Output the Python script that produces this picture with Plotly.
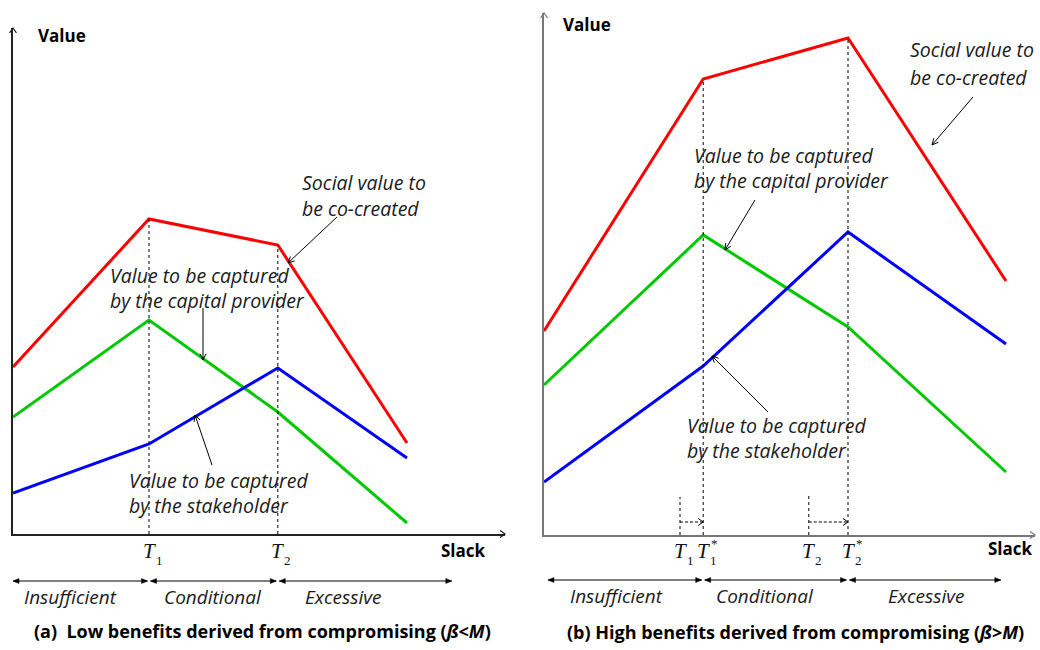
import math
import plotly.graph_objects as go

W, H = 1040, 650

# ---------------- data ----------------
T1, T2 = 3.4, 6.62          # original thresholds
T1s, T2s = 3.98, 7.6        # shifted thresholds (panel b)

slack_a = [0, T1, T2, 9.85]
social_a = [3.34, 6.3, 5.78, 1.82]
capital_a = [2.34, 4.28, 2.44, 0.22]
stake_a = [0.82, 1.8, 3.32, 1.52]

slack_b = [0, T1s, T2s, 11.55]
social_b = [4.08, 9.12, 9.94, 5.08]
capital_b = [3.0, 6.0, 4.16, 1.26]
stake_b = [1.06, 3.38, 6.06, 3.82]

regions = ["Insufficient", "Conditional", "Excessive"]
region_edges_a = [0, T1, T2, 10.97]
region_edges_b = [0.1, T1s, T2s, 11.42]
shift_marker_h = [0.76, 0.84]   # heights of short dotted markers at T1, T2 (panel b)
shift_arrow_y = 0.26

RED, GREEN, BLUE = "#FF0000", "#00C800", "#0000FF"
SANS = "Open Sans"
SERIF = "Liberation Serif"

# ---------------- geometry ----------------
SX, SY = 40.0, 50.0  # px per data unit
PANELS = {
    "a": dict(ox=13, oy=534, xend=505, ytop=28, axc="#222222", xa="x", ya="y"),
    "b": dict(ox=544, oy=535, xend=1035, ytop=13, axc="#777777", xa="x2", ya="y2"),
}

def dpx(p, x, y):
    g = PANELS[p]
    return g["ox"] + x * SX, g["oy"] - y * SY

def pp(px, py):
    return px / W, 1 - py / H

def pstr(pts, close=False):
    s = ""
    for i, (x, y) in enumerate(pts):
        a, b = pp(x, y)
        s += ("M" if i == 0 else "L") + f"{a:.5f},{b:.5f} "
    if close:
        s += "Z"
    return s

shapes = []
annotations = []

def open_arrow(x1, y1, x2, y2, color="#000", width=1, L=7, ang=26, dash=None, headonly=False):
    dx, dy = x2 - x1, y2 - y1
    n = math.hypot(dx, dy)
    ux, uy = dx / n, dy / n
    a = math.radians(ang)
    c, s = math.cos(a), math.sin(a)
    lx, ly = x2 - L * (ux * c - uy * s), y2 - L * (uy * c + ux * s)
    rx, ry = x2 - L * (ux * c + uy * s), y2 - L * (uy * c - ux * s)
    if not headonly:
        ln = dict(color=color, width=width)
        if dash:
            ln["dash"] = dash
        shapes.append(dict(type="path", xref="paper", yref="paper", path=pstr([(x1, y1), (x2, y2)]), line=ln))
    shapes.append(dict(type="path", xref="paper", yref="paper",
                       path=pstr([(lx, ly), (x2, y2), (rx, ry)]), line=dict(color=color, width=width)))

def filled_head(xt, yt, direction, L=6, hw=2.5, color="#000"):
    d = direction
    pts = [(xt, yt), (xt - d * L, yt - hw), (xt - d * L, yt + hw)]
    shapes.append(dict(type="path", xref="paper", yref="paper", path=pstr(pts, close=True),
                       fillcolor=color, line=dict(color=color, width=0.5)))

def text(px, py, t, size=18, bold=False, italic=False, xanchor="center", family=SANS, color="#1a1a1a"):
    if italic:
        t = f"<i>{t}</i>"
    if bold:
        t = f"<b>{t}</b>"
    x, y = pp(px, py)
    annotations.append(dict(x=x, y=y, xref="paper", yref="paper", text=t, showarrow=False,
                            xanchor=xanchor, yanchor="middle", align="left",
                            font=dict(family=family, size=size, color=color)))

fig = go.Figure()

def add_panel(p, slack, social, capital, stake):
    g = PANELS[p]
    for vals, col in ((social, RED), (capital, GREEN), (stake, BLUE)):
        fig.add_trace(go.Scatter(x=slack, y=vals, mode="lines", xaxis=g["xa"], yaxis=g["ya"],
                                 line=dict(color=col, width=3), cliponaxis=False,
                                 hoverinfo="skip", showlegend=False))
    # dotted guides at the kinks of the social-value line
    for i in (1, 2):
        fig.add_trace(go.Scatter(x=[slack[i], slack[i]], y=[0, social[i]], mode="lines",
                                 xaxis=g["xa"], yaxis=g["ya"], line=dict(color="#000", width=1, dash="dot"),
                                 hoverinfo="skip", showlegend=False))
    # axis arrowheads
    open_arrow(g["ox"], g["oy"], g["ox"], g["ytop"], color=g["axc"], width=1.2, L=6, ang=35, headonly=True)
    open_arrow(g["ox"], g["oy"], g["xend"], g["oy"], color=g["axc"], width=1.2, L=6, ang=35, headonly=True)

add_panel("a", slack_a, social_a, capital_a, stake_a)
add_panel("b", slack_b, social_b, capital_b, stake_b)

# shift markers in panel b
for t0, t1, h in ((T1, T1s, shift_marker_h[0]), (T2, T2s, shift_marker_h[1])):
    fig.add_trace(go.Scatter(x=[t0, t0], y=[0, h], mode="lines", xaxis="x2", yaxis="y2",
                             line=dict(color="#000", width=1, dash="dot"), hoverinfo="skip", showlegend=False))
    fig.add_trace(go.Scatter(x=[t0, t1], y=[shift_arrow_y, shift_arrow_y], mode="lines", xaxis="x2", yaxis="y2",
                             line=dict(color="#000", width=1, dash="3px,2px"), hoverinfo="skip", showlegend=False))
    x1, y1 = dpx("b", t0, shift_arrow_y)
    x2, y2 = dpx("b", t1, shift_arrow_y)
    open_arrow(x1, y1, x2, y2, headonly=True, L=6, ang=35)

# axis titles
text(36, 35, "Value", size=17, bold=True, xanchor="left", color="#000")
text(561, 25, "Value", size=17, bold=True, xanchor="left", color="#000")
text(488, 550, "Slack", size=17, bold=True, xanchor="right", color="#000")
text(1035, 548, "Slack", size=17, bold=True, xanchor="right", color="#000")

# threshold labels
def tlabel(p, xv, sub, star=False):
    px, _ = dpx(p, xv, 0)
    text(px, 551, "T", size=21, italic=True, family=SERIF, color="#111")
    text(px + 10, 560, sub, size=13, family=SERIF, xanchor="center", color="#111")
    if star:
        text(px + 11, 543, "*", size=13, family=SERIF, xanchor="center", color="#111")

tlabel("a", T1, "1")
tlabel("a", T2, "2")
tlabel("b", T1, "1")
tlabel("b", T1s, "1", star=True)
tlabel("b", T2, "2")
tlabel("b", T2s, "2", star=True)

# region arrows and labels
def region_row(p, edges, ypx, label_x, label_y):
    for i in range(3):
        xa, _ = dpx(p, edges[i], 0)
        xb, _ = dpx(p, edges[i + 1], 0)
        xa += 1.5 if i > 0 else 0
        xb -= 1.5 if i < 2 else 0
        shapes.append(dict(type="path", xref="paper", yref="paper", path=pstr([(xa, ypx), (xb, ypx)]),
                           line=dict(color="#000", width=1)))
        filled_head(xa, ypx, -1)
        filled_head(xb, ypx, 1)
        text(label_x[i], label_y, regions[i], size=19, italic=True)

region_row("a", region_edges_a, 581, [70, 213, 343], 597)
region_row("b", region_edges_b, 580, [616, 765, 926], 596)

# captions
NB = "\u00a0"
text(262, 631, f"(a){NB}{NB}Low benefits derived from compromising (<i>ß</i>&lt;<i>M</i>)", size=18, bold=True, color="#000")
text(795, 632, f"(b) High benefits derived from compromising (<i>ß</i>&gt;<i>M</i>)", size=18, bold=True, color="#000")

# callouts (one annotation per line to control the line spacing)
CS = 19.5
def callout(x, y1, y2, l1, l2):
    text(x, y1, l1, size=CS, italic=True, xanchor="left")
    text(x, y2, l2, size=CS, italic=True, xanchor="left")

callout(300, 182, 208, "Social value to", "be co-created")
open_arrow(337, 217, 288, 263)
callout(108, 275, 300, "Value to be captured", "by the capital provider")
open_arrow(203, 308, 203, 360)
callout(127, 480, 505, "Value to be captured", "by the stakeholder")
open_arrow(212, 465, 195, 415)

callout(908, 50, 77, "Social value to", "be co-created")
open_arrow(973, 97, 932, 145)
callout(692, 155, 180, "Value to be captured", "by the capital provider")
open_arrow(755, 200, 725, 250)
callout(685, 425, 450, "Value to be captured", "by the stakeholder")
open_arrow(768, 412, 712, 356)

def axis_common(color):
    return dict(showgrid=False, zeroline=False, showticklabels=False, ticks="",
                showline=True, linecolor=color, linewidth=1.5, fixedrange=True)

ga, gb = PANELS["a"], PANELS["b"]
fig.update_layout(
    width=W, height=H, margin=dict(l=0, r=0, t=0, b=0),
    paper_bgcolor="white", plot_bgcolor="white", showlegend=False,
    xaxis=dict(domain=[ga["ox"] / W, ga["xend"] / W], range=[0, (ga["xend"] - ga["ox"]) / SX], **axis_common(ga["axc"])),
    yaxis=dict(domain=[1 - ga["oy"] / H, 1 - ga["ytop"] / H], range=[0, (ga["oy"] - ga["ytop"]) / SY], anchor="x", **axis_common(ga["axc"])),
    xaxis2=dict(domain=[gb["ox"] / W, gb["xend"] / W], range=[0, (gb["xend"] - gb["ox"]) / SX], anchor="y2", **axis_common(gb["axc"])),
    yaxis2=dict(domain=[1 - gb["oy"] / H, 1 - gb["ytop"] / H], range=[0, (gb["oy"] - gb["ytop"]) / SY], anchor="x2", **axis_common(gb["axc"])),
    shapes=shapes, annotations=annotations,
)

fig.write_html("out.html", config={"displayModeBar": False},
               post_script="document.body.style.margin='0';document.body.style.overflow='hidden';")
